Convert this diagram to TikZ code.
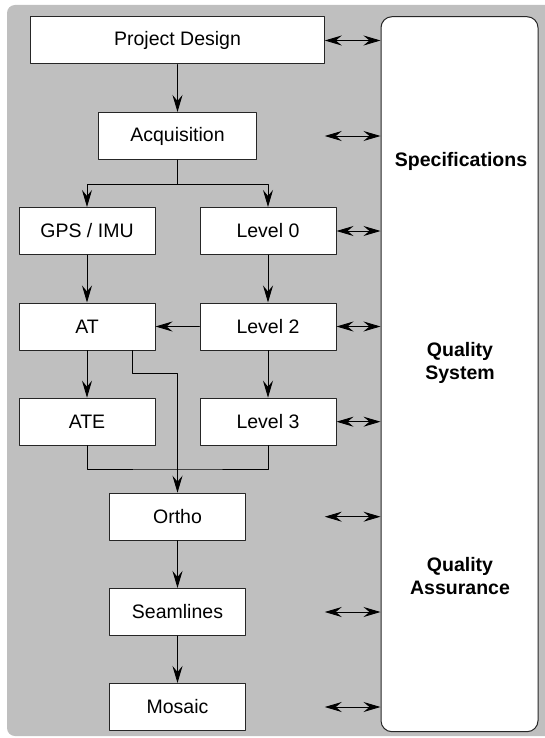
\documentclass[tikz,border=0pt]{standalone}
\usepackage{fontspec}
\setmainfont{Liberation Sans}
\usetikzlibrary{arrows.meta, calc, positioning}

\begin{document}
\begin{tikzpicture}[line cap=round,line join=round,x=1pt,y=-1pt,
  >={Stealth[length=17pt,width=10pt,inset=6pt]},
  every node/.style={font=\fontsize{19.5}{23.3}\selectfont},
  block/.style={draw=black!85, fill=white, line width=1pt, minimum height=47pt, inner sep=0pt},
  title/.style={font=\fontsize{19.5}{23.3}\selectfont\bfseries, align=center},
  flow/.style={->, line width=0.9pt},
  both/.style={<->, line width=0.9pt}]
\useasboundingbox (0,0) rectangle (544,738);

% fond gris
\fill [black!25, rounded corners=8pt] (7,5) rectangle (600,736);

% boite qualite a droite
\node [draw=black!85, fill=white, line width=1pt, rounded corners=11pt, minimum width=157pt, minimum height=715pt, inner sep=0pt] (qs) at (459.5,374.2) {};
\node [title] (spec) at (461,161.5) {Specifications};
\node [title] (qsys) at (460,363.3) {Quality\\System};
\node [title] (qass) at (460,576) {Quality\\Assurance};

% etapes
\node [block, minimum width=293.5pt] (design) at (177.5,40.5) {Project Design};
\node [block, minimum width=158pt] (acq) at (177.5,136) {Acquisition};
\node [block, minimum width=136pt] (gps) at (87,231) {GPS / IMU};
\node [block, minimum width=136pt] (lv0) at (268,231) {Level 0};
\node [block, minimum width=136pt] (at) at (87,326.5) {AT};
\node [block, minimum width=136pt] (lv2) at (268,326.5) {Level 2};
\node [block, minimum width=136pt] (ate) at (87,421.7) {ATE};
\node [block, minimum width=136pt] (lv3) at (268,421.7) {Level 3};
\node [block, minimum width=136pt] (ortho) at (177.5,516.7) {Ortho};
\node [block, minimum width=136pt] (seam) at (177.5,612) {Seamlines};
\node [block, minimum width=136pt] (mosaic) at (177.5,707) {Mosaic};

% points de branchement
\coordinate (split) at ($(acq.south)+(0,24)$);
\coordinate (atout) at ($(at.south)+(45,0)$);
\coordinate (bend) at ($(atout)+(0,23.3)$);
\coordinate (merge) at ($(ortho.north)+(0,-23.7)$);

% fleches du flux
\draw [flow] (design) -- (acq);
\draw [flow] (acq.south) -- (split) -| (gps.north);
\draw [flow] (split) -| (lv0.north);
\draw [flow] (gps) -- (at);
\draw [flow] (lv0) -- (lv2);
\draw [flow] (lv2) -- (at);
\draw [flow] (at) -- (ate);
\draw [flow] (lv2) -- (lv3);
\draw [line width=0.9pt] (ate.south) |- (merge) -| (lv3.south);
\draw [flow] (atout) -- (bend) -| (ortho.north);
\draw [flow] (ortho) -- (seam);
\draw [flow] (seam) -- (mosaic);

% liens avec le systeme qualite
\foreach \n in {design, acq, ortho, seam, mosaic}
  \draw [both] (\n -| design.east) -- (\n -| qs.west);
\foreach \n in {lv0, lv2, lv3}
  \draw [both] (\n.east) -- (\n -| qs.west);

\end{tikzpicture}
\end{document}
